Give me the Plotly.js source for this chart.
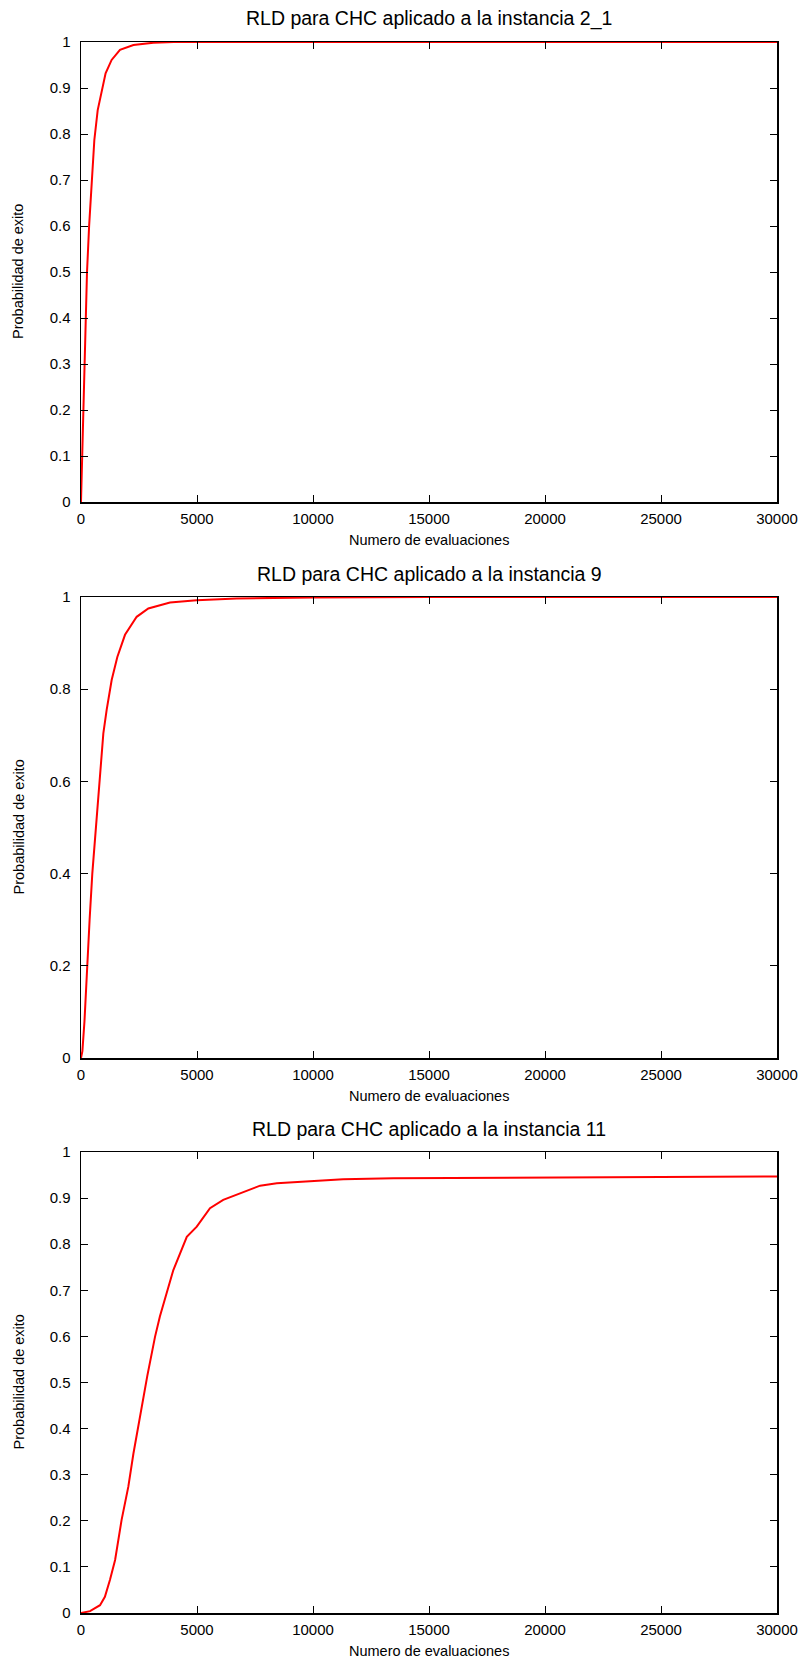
<!DOCTYPE html>
<html>
<head>
<meta charset="utf-8">
<script src="https://cdn.plot.ly/plotly-3.0.1.min.js"></script>
<style>
html,body{margin:0;padding:0;background:#fff;}
#chart{width:806px;height:1661px;}
</style>
</head>
<body>
<div id="chart"></div>
<script>
// ---- Data ----
const titles = [
  "RLD para CHC aplicado a la instancia 2_1",
  "RLD para CHC aplicado a la instancia 9",
  "RLD para CHC aplicado a la instancia 11"
];
const xAxisTitle = "Numero de evaluaciones";
const yAxisTitle = "Probabilidad de exito";

const evals_2_1 = [0, 56, 99, 142, 200, 259, 350, 414, 460, 575, 720, 890, 1060, 1320, 1680, 2260, 3120, 4000, 30000];
const prob_2_1  = [0, 0.1, 0.2, 0.3, 0.4, 0.5, 0.6, 0.656, 0.70, 0.787, 0.852, 0.896, 0.932, 0.961, 0.983, 0.9935, 0.9985, 1, 1];

const evals_9 = [0, 60, 150, 259, 371, 487, 600, 700, 819, 963, 1106, 1322, 1566, 1897, 2400, 2902, 3836, 4986, 6710, 10000, 15000, 30000];
const prob_9  = [0, 0.015, 0.08, 0.2, 0.3, 0.4, 0.47, 0.54, 0.615, 0.704, 0.755, 0.82, 0.870, 0.918, 0.957, 0.975, 0.988, 0.993, 0.997, 0.999, 1, 1];

const evals_11 = [0, 390, 820, 1030, 1250, 1470, 1750, 2040, 2260, 2540, 2860, 3190, 3400, 3980, 4560, 4990, 5560, 6130, 6710, 7280, 7720, 8440, 9870, 11300, 13460, 16340, 20000, 25000, 30000];
const prob_11  = [0, 0.004, 0.017, 0.035, 0.072, 0.115, 0.202, 0.274, 0.346, 0.428, 0.515, 0.599, 0.643, 0.744, 0.816, 0.838, 0.878, 0.896, 0.907, 0.918, 0.927, 0.932, 0.937, 0.941, 0.943, 0.944, 0.945, 0.946, 0.947];

const yTickSteps = [0.1, 0.2, 0.1];

// ---- Layout geometry (pixels) ----
const W = 806, H = 1661;
const plotLeft = 81, plotRight = 777;
const plotTops = [42, 597, 1152];
const plotBottoms = [502, 1058, 1613];
const FONT = "'Liberation Sans', Arial, Helvetica, sans-serif";

const px = x => x / W;
const py = y => 1 - y / H;

const series = [[evals_2_1, prob_2_1], [evals_9, prob_9], [evals_11, prob_11]];
const traces = series.map((s, i) => ({
  x: s[0], y: s[1],
  type: 'scatter', mode: 'lines',
  line: {color: '#ff0000', width: 2},
  xaxis: i === 0 ? 'x' : 'x' + (i + 1),
  yaxis: i === 0 ? 'y' : 'y' + (i + 1),
  showlegend: false,
  hoverinfo: 'x+y'
}));

const layout = {
  width: W, height: H,
  margin: {l: 0, r: 0, t: 0, b: 0},
  paper_bgcolor: '#fff', plot_bgcolor: '#fff',
  font: {family: FONT, size: 15, color: '#000'},
  showlegend: false,
  annotations: []
};

for (let i = 0; i < 3; i++) {
  const sx = i === 0 ? '' : String(i + 1);
  const xa = {
    domain: [px(plotLeft), px(plotRight)],
    range: [0, 30000],
    dtick: 5000, tick0: 0,
    tickformat: 'd',
    ticks: 'inside', ticklen: 7, tickwidth: 1, tickcolor: '#000',
    showline: true, linecolor: '#000', linewidth: 1.5,
    mirror: 'ticks',
    showgrid: false, zeroline: false,
    anchor: 'y' + sx,
    tickfont: {family: FONT, size: 15, color: '#000'},
    ticklabelstandoff: 2,
    fixedrange: true
  };
  const ya = {
    domain: [py(plotBottoms[i]), py(plotTops[i])],
    range: [0, 1],
    dtick: yTickSteps[i], tick0: 0,
    ticks: 'inside', ticklen: 7, tickwidth: 1, tickcolor: '#000',
    showline: true, linecolor: '#000', linewidth: 1.5,
    mirror: 'ticks',
    showgrid: false, zeroline: false,
    anchor: 'x' + sx,
    tickfont: {family: FONT, size: 15, color: '#000'},
    ticklabelstandoff: 6,
    fixedrange: true
  };
  layout['xaxis' + sx] = xa;
  layout['yaxis' + sx] = ya;

  const cx = px((plotLeft + plotRight) / 2);
  layout.annotations.push({
    text: titles[i], xref: 'paper', yref: 'paper',
    x: cx, y: py(plotTops[i] - 23), xanchor: 'center', yanchor: 'middle',
    showarrow: false, font: {family: FONT, size: 19.5, color: '#000'}
  });
  layout.annotations.push({
    text: xAxisTitle, xref: 'paper', yref: 'paper',
    x: cx, y: py(plotBottoms[i] + 38), xanchor: 'center', yanchor: 'middle',
    showarrow: false, font: {family: FONT, size: 14.5, color: '#000'}
  });
  layout.annotations.push({
    text: yAxisTitle, xref: 'paper', yref: 'paper', textangle: -90,
    x: px(18), y: py((plotTops[i] + plotBottoms[i]) / 2), xanchor: 'center', yanchor: 'middle',
    showarrow: false, font: {family: FONT, size: 14.5, color: '#000'}
  });
}

Plotly.newPlot('chart', traces, layout, {staticPlot: true, displayModeBar: false});
</script>
</body>
</html>
